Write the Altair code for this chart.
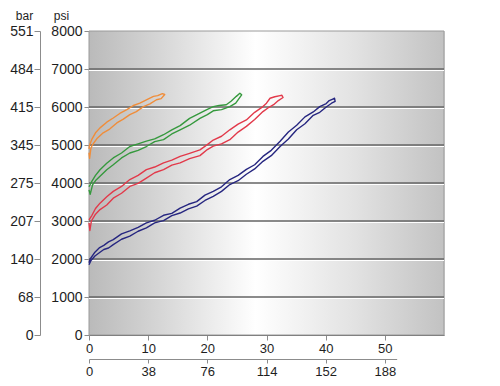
import altair as alt
import pandas as pd

# ---- axis tick values / labels ----
psi_ticks = [0, 1000, 2000, 3000, 4000, 5000, 6000, 7000, 8000]
bar_labels = ["0", "68", "140", "207", "275", "345", "415", "484", "551"]
x_ticks = [0, 10, 20, 30, 40, 50]
x2_labels = ["0", "38", "76", "114", "152", "188"]

series_names = ["navy", "red", "green", "orange"]
series_colors = ["#262680", "#e2394a", "#35993d", "#f08d3a"]

# ---- loops (out along one branch, back along the other) ----
navy_x = [0, 0.3, 1, 1.8, 2.5, 3.3, 4.1, 5.5, 6.9, 8.3, 9.7, 11.1, 12.6, 14, 15.4, 16.8, 18.2, 19.6, 21, 22.4,
          23.8, 25.2, 26.6, 28, 29.4, 30.8, 32.3, 33.7, 35.1, 36.5, 37.9, 39, 40.1, 41, 41.6,
          41.5, 41.2, 40.6, 40.1, 39, 37.9, 36.5, 35.1, 33.7, 32.3, 30.8, 29.4, 28, 26.6, 25.2, 23.8, 22.4,
          21, 19.6, 18.2, 16.8, 15.4, 14, 12.6, 11.1, 9.7, 8.3, 6.9, 5.5, 4.1, 3.3, 2.5, 1.8, 1, 0.2, 0]
navy_psi = [1850, 1950, 2080, 2170, 2250, 2290, 2380, 2520, 2600, 2730, 2820, 2950, 3010, 3140, 3210, 3320, 3390,
            3540, 3650, 3780, 3960, 4060, 4230, 4370, 4570, 4720, 4960, 5160, 5400, 5560, 5780, 5860, 6000, 6100, 6150,
            6230, 6210, 6170, 6090, 6010, 5870, 5740, 5520, 5340, 5100, 4860, 4700, 4480, 4360, 4200, 4090, 3900,
            3780, 3680, 3510, 3440, 3340, 3200, 3150, 3020, 2950, 2830, 2740, 2660, 2510, 2450, 2360, 2300, 2180,
            2000, 1900]

red_x = [0, 0.15, 0.4, 1.1, 1.86, 3, 4.1, 5.5, 6.9, 8.3, 9.7, 11.1, 12.6, 14, 15.4, 17, 18.75, 20, 21, 22.4,
         23.8, 25.2, 26.6, 28, 29.4, 30.3, 31.2, 32, 32.8,
         32.6, 32.3, 31.4, 30.6, 30, 29.4, 28, 26.6, 25.2, 23.8, 22.4, 21, 20, 18.75, 17, 15.4, 14, 12.6,
         11.1, 9.7, 8.3, 6.9, 5.5, 4.1, 3, 1.86, 1.1, 0.5, 0]
red_psi = [2950, 2750, 3000, 3180, 3300, 3420, 3600, 3730, 3910, 3990, 4130, 4270, 4350, 4470, 4530, 4640, 4720,
           4880, 4970, 5030, 5140, 5340, 5490, 5670, 5880, 5980, 6060, 6170, 6250,
           6310, 6300, 6270, 6230, 6100, 6010, 5860, 5660, 5550, 5400, 5230, 5130, 5010, 4870, 4780, 4700, 4600,
           4530, 4420, 4350, 4200, 4090, 3910, 3780, 3640, 3470, 3330, 3150, 3030]

green_x = [0, 0.2, 0.6, 1.2, 1.86, 3, 4.1, 5.5, 6.9, 8.3, 9.7, 11.1, 12.6, 14, 15.4, 17, 18.75, 20, 21, 22.4,
           23.8, 24.8, 25.8,
           25.5, 24.9, 24, 23.2, 22, 21, 20, 18.75, 17, 15.4, 14, 12.6, 11.1, 9.7, 8.3, 6.9, 5.5, 4.1, 3,
           1.86, 1.1, 0.5, 0]
green_psi = [3820, 3700, 3950, 4080, 4180, 4350, 4480, 4660, 4790, 4860, 4960, 5090, 5140, 5290, 5400, 5520, 5700,
             5800, 5900, 5930, 6010, 6100, 6320,
             6360, 6280, 6150, 6060, 6040, 6010, 5940, 5840, 5700, 5510, 5400, 5270, 5160, 5100, 5030, 4960, 4790,
             4660, 4520, 4350, 4200, 4050, 3900]

orange_x = [0, 0.1, 0.3, 0.56, 1.4, 2.4, 3.5, 4.7, 5.8, 6.9, 8, 9.2, 10.3, 11.4, 12.2, 12.8,
            12.4, 11.6, 10.9, 9.7, 8.6, 7.5, 6.4, 5.2, 4.1, 3, 1.86, 1.1, 0.45, 0.1, 0]
orange_psi = [4800, 4650, 4900, 5000, 5180, 5320, 5420, 5580, 5680, 5800, 5880, 6010, 6080, 6190, 6220, 6330,
              6350, 6300, 6280, 6190, 6100, 6040, 5930, 5830, 5710, 5600, 5450, 5320, 5140, 5000, 4900]

rows = []
for name, xs, ps in [("navy", navy_x, navy_psi), ("red", red_x, red_psi),
                     ("green", green_x, green_psi), ("orange", orange_x, orange_psi)]:
    for i, (a, b) in enumerate(zip(xs, ps)):
        rows.append({"series": name, "x": a, "psi": b, "order": i})
df = pd.DataFrame(rows)


def label_expr(values, labels):
    expr = "''"
    for v, l in reversed(list(zip(values, labels))):
        expr = f"datum.value == {v} ? '{l}' : ({expr})"
    return expr


W, H = 355, 304
FONT = "Liberation Sans"
x_scale = alt.Scale(domain=[0, 60], nice=False, zero=False)
y_scale = alt.Scale(domain=[0, 8000], nice=False)

common = dict(labelFont=FONT, labelColor="#1e1e1e", tickColor="#8c8c8c", labelFlush=False,
              grid=False, titleFont=FONT, titleColor="#1e1e1e", titleFontWeight="normal")

x_main_axis = alt.Axis(values=x_ticks, format="d", title=None, tickSize=5, labelFontSize=13, labelPadding=2,
                       domainColor="#666666", **common)
psi_axis = alt.Axis(values=psi_ticks, format="d", title="psi", titleAngle=0, titleAlign="center",
                    titleBaseline="middle", titleX=-28, titleY=-16, titleFontSize=12, tickSize=5,
                    labelFontSize=14, labelPadding=2, orient="left", domainColor="#8c8c8c", **common)
bar_axis = alt.Axis(values=psi_ticks, labelExpr=label_expr(psi_ticks, bar_labels), title="bar", titleAngle=0,
                    titleAlign="center", titleBaseline="middle", titleX=-16, titleY=-16, titleFontSize=12,
                    tickSize=6, labelFontSize=14, labelPadding=1, orient="left", offset=49,
                    domainColor="#8c8c8c", **common)
x2_axis = alt.Axis(values=x_ticks, labelExpr=label_expr(x_ticks, x2_labels), title=None, tickSize=4,
                   labelFontSize=13, labelPadding=2, orient="bottom", offset=24, domainColor="#8c8c8c", **common)

grad = alt.Gradient(
    gradient="linear",
    stops=[alt.GradientStop(offset=0, color="#bababa"),
           alt.GradientStop(offset=0.2, color="#d6d6d6"),
           alt.GradientStop(offset=0.47, color="#ffffff"),
           alt.GradientStop(offset=0.75, color="#e2e2e2"),
           alt.GradientStop(offset=1, color="#c2c2c2")],
    x1=0, x2=1, y1=0, y2=0)

bg_df = pd.DataFrame({"x0": [0], "x1": [60], "y0": [0], "y1": [8000]})
bg = alt.Chart(bg_df).mark_rect(fill=grad, stroke="#9a9a9a", strokeWidth=1).encode(
    x=alt.X("x0:Q", scale=x_scale, axis=x_main_axis),
    x2="x1:Q",
    y=alt.Y("y0:Q", scale=y_scale, axis=psi_axis),
    y2="y1:Q",
)

grid_df = pd.DataFrame({"psi": psi_ticks[1:-1]})
grid_hi = alt.Chart(grid_df).mark_rule(color="#ffffff", strokeWidth=1.2, yOffset=1.5).encode(
    y=alt.Y("psi:Q", scale=y_scale, axis=None))
grid = alt.Chart(grid_df).mark_rule(color="#646464", strokeWidth=1.3).encode(
    y=alt.Y("psi:Q", scale=y_scale, axis=None))

lines = alt.Chart(df).mark_line(strokeWidth=1.4, strokeJoin="round").encode(
    x=alt.X("x:Q", scale=x_scale, axis=None),
    y=alt.Y("psi:Q", scale=y_scale, axis=None),
    color=alt.Color("series:N", scale=alt.Scale(domain=series_names, range=series_colors), legend=None),
    order="order:Q",
)

carrier_df = pd.DataFrame({"x": x_ticks, "psi": psi_ticks[:len(x_ticks)]})
carrier = alt.Chart(carrier_df).mark_point(opacity=0).encode(
    x=alt.X("x:Q", scale=alt.Scale(domain=[0, 52], range=[0, W * 52 / 60], nice=False, zero=False), axis=x2_axis),
    y=alt.Y("psi:Q", scale=y_scale, axis=bar_axis),
)

chart = alt.layer(bg, grid_hi, grid, lines, carrier).resolve_scale(
    x="independent", y="independent"
).resolve_axis(x="independent", y="independent").properties(
    width=W, height=H, autosize="none",
    padding={"left": 81, "top": 23, "right": 48, "bottom": 51},
).configure_view(stroke=None).configure(background="#ffffff")

chart.save("out.html", embed_options={"renderer": "svg", "actions": False})
